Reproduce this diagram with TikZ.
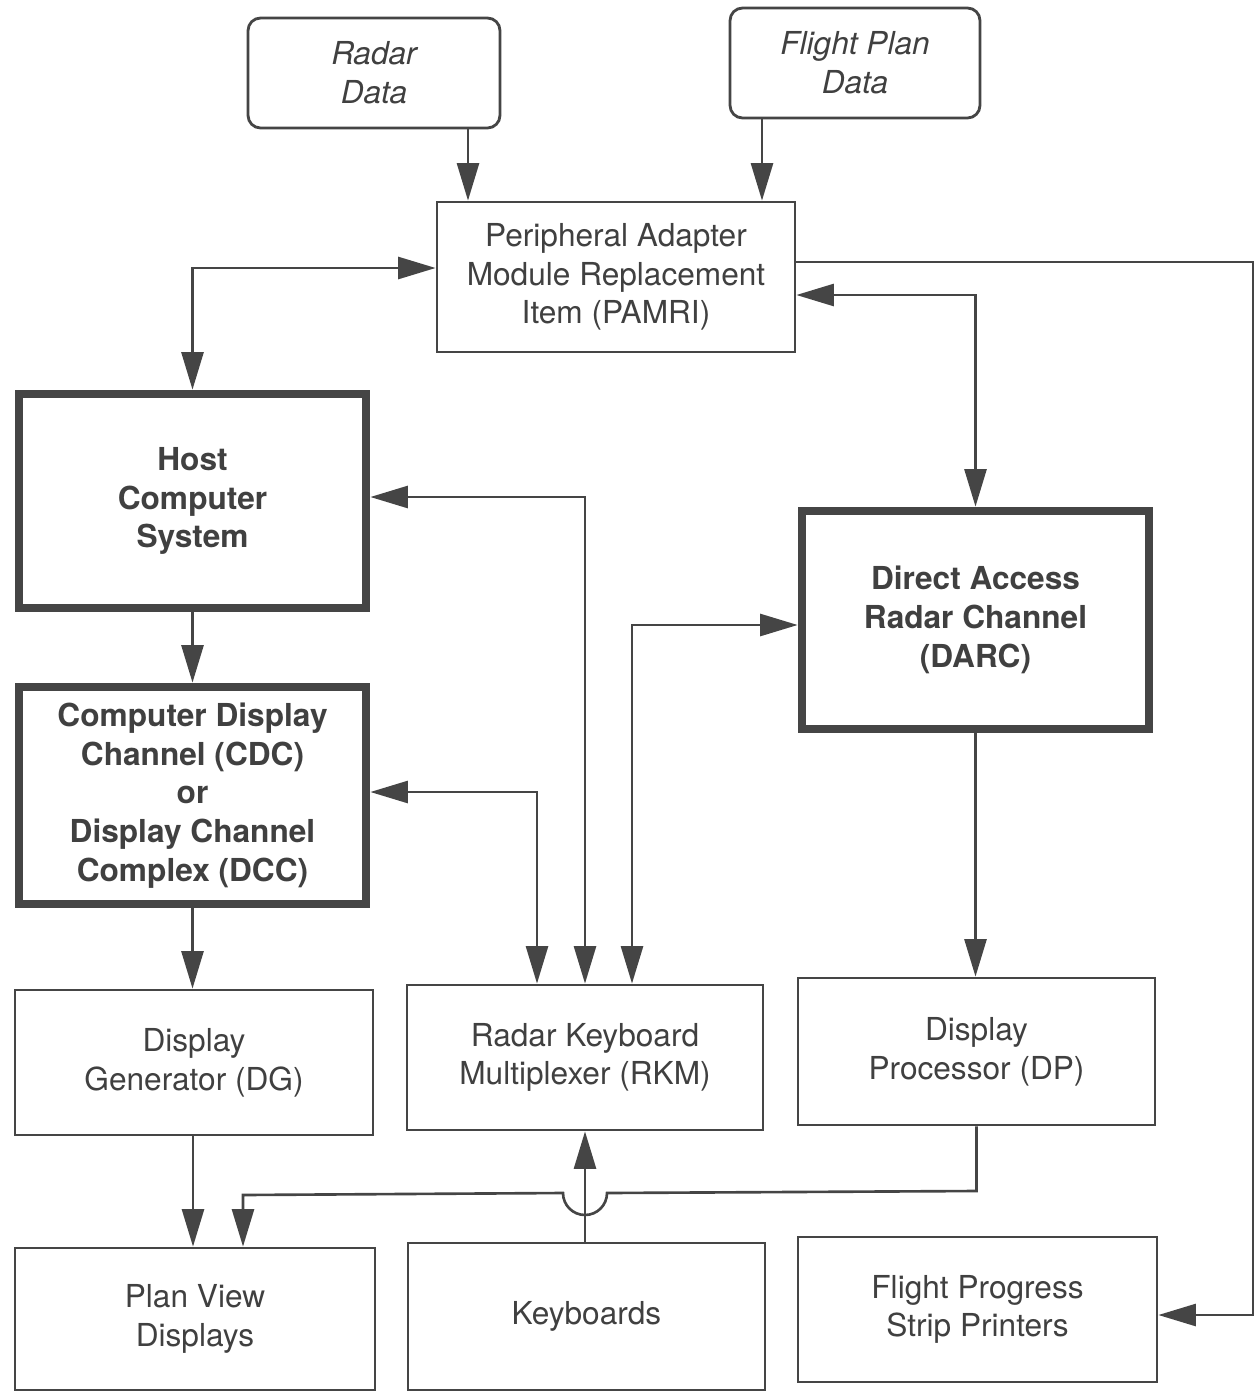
\documentclass[tikz,border=0pt]{standalone}
\usepackage{fontspec}
\setmainfont{TeX Gyre Heros}
\usetikzlibrary{arrows.meta}
\definecolor{ink}{gray}{0.27}
\definecolor{txt}{gray}{0.25}
\tikzset{
  box/.style={draw=ink, line width=1.6pt, fill=white, align=center, text=txt,
    font=\fontsize{18}{22}\selectfont, inner sep=0pt},
  thickbox/.style={box, line width=5pt, font=\fontsize{18}{22}\selectfont\bfseries},
  srcbox/.style={box, rounded corners=0.25cm, font=\fontsize{18}{22}\selectfont\itshape},
  conn/.style={draw=ink, line width=1.5pt},
  arr/.style={conn, -{Triangle[length=0.75cm,width=0.44cm]}},
  darr/.style={conn, {Triangle[length=0.75cm,width=0.44cm]}-{Triangle[length=0.75cm,width=0.44cm]}},
}
\begin{document}
\begin{tikzpicture}[x=0.02cm,y=-0.02cm]
\useasboundingbox (0,0) rectangle (1256,1393);

\node[srcbox, minimum width=5.04cm, minimum height=2.2cm] (radar) at (374,73) {Radar\\Data};
\node[srcbox, minimum width=5.0cm, minimum height=2.2cm] (fpdata) at (855,63) {Flight Plan\\Data};
\node[box, minimum width=7.16cm, minimum height=3.0cm] (pamri) at (616,277) {Peripheral Adapter\\Module Replacement\\Item (PAMRI)};
\node[thickbox, minimum width=6.94cm, minimum height=4.28cm] (host) at (192.5,501) {Host\\Computer\\System};
\node[thickbox, minimum width=6.94cm, minimum height=4.34cm] (cdc) at (192.5,795.5) {Computer Display\\Channel (CDC)\\or\\Display Channel\\Complex (DCC)};
\node[thickbox, minimum width=6.94cm, minimum height=4.36cm] (darc) at (975.5,620) {Direct Access\\Radar Channel\\(DARC)};
\node[box, minimum width=7.16cm, minimum height=2.9cm] (dg) at (194,1062.5) {Display\\Generator (DG)};
\node[box, minimum width=7.12cm, minimum height=2.9cm] (rkm) at (585,1057.5) {Radar Keyboard\\Multiplexer (RKM)};
\node[box, minimum width=7.14cm, minimum height=2.94cm] (dp) at (976.5,1051.5) {Display\\Processor (DP)};
\node[box, minimum width=7.2cm, minimum height=2.84cm] (pvd) at (195,1319) {Plan View\\Displays};
\node[box, minimum width=7.14cm, minimum height=2.94cm] (keyb) at (586.5,1316.5) {Keyboards};
\node[box, minimum width=7.18cm, minimum height=2.9cm] (fpsp) at (977.5,1309.5) {Flight Progress\\Strip Printers};

\coordinate (rc) at (1253,262);

% inputs to PAMRI
\draw[arr] (468,0 |- radar.south) -- (468,0 |- pamri.north);
\draw[arr] (762,0 |- fpdata.south) -- (762,0 |- pamri.north);
% PAMRI <-> Host
\draw[darr] (pamri.west |- 0,268) -| (host.north);
% PAMRI -> FPSP
\draw[arr] (pamri.east |- 0,262) -- (rc) |- (fpsp.east |- 0,1315);
% PAMRI <-> DARC
\draw[darr] (pamri.east |- 0,295) -| (darc.north);
% vertical chain left
\draw[arr] (host.south) -- (host.south |- cdc.north);
\draw[arr] (cdc.south) -- (cdc.south |- dg.north);
\draw[arr] (193,0 |- dg.south) -- (193,0 |- pvd.north);
% to RKM
\draw[darr] (host.east |- 0,497) -| (585,0 |- rkm.north);
\draw[darr] (cdc.east |- 0,792) -| (537,0 |- rkm.north);
\draw[darr] (darc.west |- 0,625) -| (632,0 |- rkm.north);
% DARC -> DP
\draw[arr] (darc.south) -- (darc.south |- dp.north);
% Keyboards -> RKM
\draw[arr] (585,0 |- keyb.north) -- (585,0 |- rkm.south);
% DP -> PVD with jump over
\draw[arr] (dp.south) -- (dp.south |- 0,1191) -- (607,1193) arc (0:180:22) -- (243,1195) -- (243,0 |- pvd.north);
\end{tikzpicture}
\end{document}
